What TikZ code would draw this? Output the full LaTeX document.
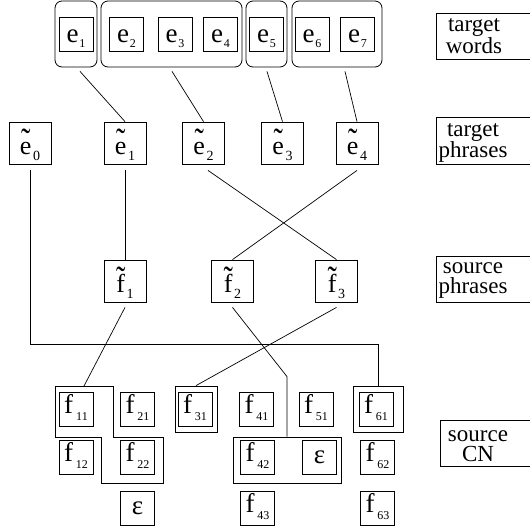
\documentclass[tikz,border=0pt]{standalone}
\usepackage{fontspec}
\setmainfont{Liberation Serif}
\newfontfamily\tms{Liberation Serif}
\usetikzlibrary{fit,calc}

% letter with a lowered index
\newcommand\wsub[2]{#1\kern1pt\raisebox{-5pt}{\fontsize{12}{12}\selectfont #2}}
\newcommand\fsub[1]{f\kern3pt\raisebox{-7pt}{\fontsize{12}{12}\selectfont #1}}
% letter with a tilde set well above it
\newcommand\tld[1]{\ooalign{#1\cr\hidewidth
  \raisebox{0.5pt}{\scalebox{1}[1.3]{\fontsize{28}{28}\selectfont\char"02DC}}%
  \hidewidth\cr}}
\newcommand\psub[2]{\tld{#1}\kern1.5pt\raisebox{-6pt}{\fontsize{14}{14}\selectfont #2}}

\tikzset{
  cell/.style={draw, line width=0.8pt, minimum width=34pt, minimum height=34pt,
    inner sep=0pt, font=\tms\fontsize{27}{27}\selectfont},
  wbox/.style={cell, text height=16pt, text depth=0pt},
  fbox/.style={cell, text height=12pt, text depth=4pt},
  ebox/.style={cell},
  pbox/.style={cell, minimum width=42pt, minimum height=42pt,
    text height=22pt, text depth=0pt, font=\tms\fontsize{26}{26}\selectfont},
  grp/.style={draw, rounded corners=7pt, inner sep=0pt, line width=0.8pt},
  cgrp/.style={draw, inner sep=0pt, line width=0.8pt},
  labbox/.style={draw, inner sep=0pt, line width=0.9pt},
  labtext/.style={align=center, inner sep=0pt, font=\tms\fontsize{23}{20}\selectfont},
  link/.style={line width=0.7pt}
}

\begin{document}
\begin{tikzpicture}[x=1pt, y=-1pt, line width=0.8pt]
\clip (0,0) rectangle (530,531);

% ---- target words ----
\node[wbox] (e1) at (76,34)    {\wsub{e}{1}};
\node[wbox] (e2) at (126.5,34) {\wsub{e}{2}};
\node[wbox] (e3) at (175,34)   {\wsub{e}{3}};
\node[wbox] (e4) at (220.5,34) {\wsub{e}{4}};
\node[wbox] (e5) at (266.5,34) {\wsub{e}{5}};
\node[wbox] (e6) at (312,34)   {\wsub{e}{6}};
\node[wbox] (e7) at (357.5,34) {\wsub{e}{7}};

\node[grp, fit={(55,1) (97,67)}]   (g1) {};
\node[grp, fit={(101,1) (242,67)}] (g2) {};
\node[grp, fit={(246,1) (287,67)}] (g3) {};
\node[grp, fit={(292,1) (382,67)}] (g4) {};

% ---- target phrases ----
\node[pbox] (pe0) at (30,143)    {\psub{e}{0}};
\node[pbox] (pe1) at (125,143)   {\psub{e}{1}};
\node[pbox] (pe2) at (203.5,143) {\psub{e}{2}};
\node[pbox] (pe3) at (282.5,143) {\psub{e}{3}};
\node[pbox] (pe4) at (357,143)   {\psub{e}{4}};

% ---- source phrases ----
\node[pbox] (pf1) at (125,281)   {\psub{f}{1}};
\node[pbox] (pf2) at (232.5,281) {\psub{f}{2}};
\node[pbox] (pf3) at (336.5,281) {\psub{f}{3}};

% ---- source confusion network ----
\node[fbox] (f11) at (76,409)    {\fsub{11}};
\node[fbox] (f21) at (137.5,409) {\fsub{21}};
\node[fbox] (f31) at (195,409)   {\fsub{31}};
\node[fbox] (f41) at (256.5,409) {\fsub{41}};
\node[fbox] (f51) at (316,409)   {\fsub{51}};
\node[fbox] (f61) at (376,409)   {\fsub{61}};

\node[fbox] (f12) at (76,457.5)    {\fsub{12}};
\node[fbox] (f22) at (137.5,457.5) {\fsub{22}};
\node[fbox] (f42) at (257.5,457.5) {\fsub{42}};
\node[ebox] (eps2) at (319.5,457.5) {ε};
\node[fbox] (f62) at (377.5,457.5) {\fsub{62}};

\node[ebox] (eps1) at (137.5,508) {ε};
\node[fbox] (f43) at (257.5,508)  {\fsub{43}};
\node[fbox] (f63) at (377.5,508)  {\fsub{63}};

% groups of source words
\draw (55,386) -- (113,386) -- (113,437) -- (163,437) -- (163,483)
      -- (101,483) -- (101,437) -- (55,437) -- cycle;
\coordinate (cg1) at (84,386);
\node[cgrp, fit={(175,386) (217,432)}] (cg3) {};
\node[cgrp, fit={(233,437) (341,483)}] (cg4) {};
\node[cgrp, fit={(353,386) (403,432)}] (cg6) {};

% ---- row labels ----
\node[labbox, fit={(436,13) (540,59)}]   (lw)  {};
\node[labbox, fit={(436,117) (540,164)}] (lp)  {};
\node[labbox, fit={(436,256) (540,302)}] (ls)  {};
\node[labbox, fit={(440,420) (540,466)}] (lcn) {};
\node[labtext] at (474,36)  {target\\words};
\node[labtext] at (473,143) {target\\phrases};
\node[labtext] at (473,281) {source\\phrases};
\node[labtext] at (478,446) {source\\CN};

% ---- word groups to target phrases ----
\draw[link] ([xshift=4pt,yshift=-4pt]g1.south) -- (pe1.north);
\draw[link] ([xshift=0.5pt,yshift=-4pt]g2.south) -- (pe2.north);
\draw[link] ([xshift=0.5pt,yshift=-4pt]g3.south) -- (pe3.north);
\draw[link] ([xshift=8pt,yshift=-4pt]g4.south) -- (pe4.north);

% ---- target phrases to source phrases ----
\draw[link] ([yshift=-6pt]pe1.south) -- (pf1.north);
\draw[link] ([xshift=4.5pt,yshift=-6pt]pe2.south) -- (pf3.north);
\draw[link] ([yshift=-6pt]pe4.south) -- (pf2.north);
\coordinate (turn) at (0,344);
\draw[link] ([yshift=-6pt]pe0.south) -- (pe0.south |- turn)
      -- (cg6.north |- turn) -- (cg6.north);

% ---- source phrases to source words ----
\draw[link] ([yshift=-5pt]pf1.south) -- (cg1);
\draw[link] ([yshift=-5pt]pf2.south) -- ([yshift=60pt]cg4.north) -- (cg4.north);
\draw[link] ([yshift=-5pt]pf3.south) -- (cg3.north);
\end{tikzpicture}
\end{document}
